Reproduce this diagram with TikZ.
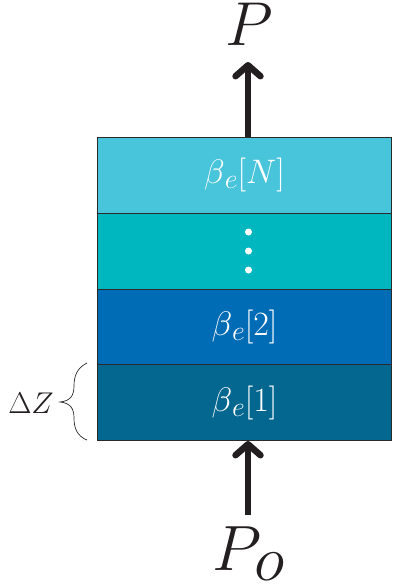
\RequirePackage{fix-cm}
\documentclass[tikz,border=0pt]{standalone}
\usetikzlibrary{arrows.meta}
\definecolor{cA}{HTML}{48C4DB}
\definecolor{cB}{HTML}{00B6BF}
\definecolor{cC}{HTML}{016CB6}
\definecolor{cD}{HTML}{04678F}
\definecolor{edgegray}{HTML}{2A2A2A}
\definecolor{ink}{HTML}{231F20}
\newcommand\lowsub[1]{\raisebox{-5pt}{\fontsize{28}{30}\selectfont$#1$}}
\newcommand\betalabel[1]{$\beta$\lowsub{e}$[#1]$}
\begin{document}
\begin{tikzpicture}[x=1pt,y=-1pt,
  layer/.style={draw=edgegray, line width=1pt, minimum width=294pt, minimum height=75.75pt,
    inner sep=0pt, anchor=north west, text=white, font=\fontsize{34}{36}\selectfont},
  flow/.style={line width=6.5pt, draw=ink, -{Straight Barb[length=11pt,width=25pt,round]}},
  bigp/.style={inner sep=0pt, text=ink, font=\fontsize{62}{70}\selectfont},
  dotmark/.style={fill=white, circle, inner sep=0pt, minimum size=7pt}]
\useasboundingbox (0,0) rectangle (392,586);
% layers
\node[layer, fill=cA] (l4) at (97,137) {\betalabel{N}};
\node[layer, fill=cB] (l3) at (97,212.75) {};
\node[layer, fill=cC] (l2) at (97,288.5) {\betalabel{2}};
\node[layer, fill=cD] (l1) at (97,364.25) {\betalabel{1}};
% dots
\node[dotmark] (d1) at (248.5,232) {};
\node[dotmark] (d2) at (248.5,251) {};
\node[dotmark] (d3) at (248.5,270) {};
% arrows
\coordinate (ptip) at (248,62);
\coordinate (pstart) at (248,515);
\draw[flow] (l4.north -| ptip) -- (ptip);
\draw[flow] (pstart) -- (l1.south -| pstart);
% labels
\node[bigp, anchor=base] (P) at (249,46) {$P$};
\node[bigp, anchor=base west, font=\fontsize{64}{70}\selectfont] (Po) at (212,570) {$P$\kern-7pt\raisebox{-10pt}{$o$}};
% brace
\draw[edgegray, line width=0.7pt] (87,363) .. controls (77,368) and (74,376) .. (74,386)
  .. controls (74,396) and (70,401) .. (60,402)
  .. controls (70,403) and (74,408) .. (74,418)
  .. controls (74,428) and (77,436) .. (87,440);
\node[anchor=base, inner sep=0pt, text=ink, font=\fontsize{30}{36}\selectfont] (dz) at (31,413) {$\Delta Z$};
\end{tikzpicture}
\end{document}
